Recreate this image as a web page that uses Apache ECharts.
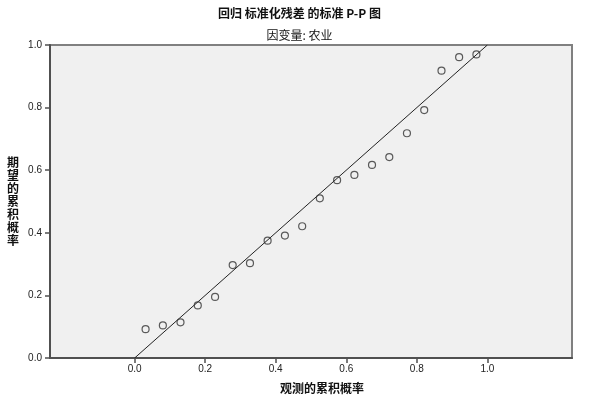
<!DOCTYPE html>
<html>
<head>
<meta charset="utf-8">
<script src="https://cdn.jsdelivr.net/npm/echarts@6/dist/echarts.min.js"></script>
<style>
html,body{margin:0;padding:0;background:#fff;}
#main{width:599px;height:409px;}
</style>
</head>
<body>
<div id="main"></div>
<script>
// 观测的累积概率 / 期望的累积概率
var observedProb = [0.031, 0.080, 0.130, 0.179, 0.228, 0.278, 0.327, 0.377, 0.426, 0.475,
                    0.525, 0.574, 0.623, 0.673, 0.722, 0.772, 0.821, 0.870, 0.920, 0.969];
var expectedProb = [0.092, 0.104, 0.114, 0.168, 0.195, 0.297, 0.303, 0.375, 0.391, 0.421,
                    0.510, 0.568, 0.585, 0.617, 0.642, 0.718, 0.792, 0.918, 0.961, 0.970];
var refLine = [[0, 0], [1, 1]];
var xTicks = [0, 0.2, 0.4, 0.6, 0.8, 1.0];

var pts = [];
for (var i = 0; i < observedProb.length; i++) {
	pts.push([observedProb[i], expectedProb[i]]);
}

var myChart = echarts.init(document.getElementById('main'));
var cjk = '"Noto Sans CJK SC", sans-serif';
var option = {
	animation: false,
	backgroundColor: '#fff',
	title: [{
		text: '回归 标准化残差 的标准 P-P 图',
		left: 'center',
		top: 2,
		textStyle: { fontFamily: cjk, fontSize: 12, fontWeight: 'bold', color: '#111' }
	}, {
		text: '因变量: 农业',
		left: 'center',
		top: 24,
		textStyle: { fontFamily: cjk, fontSize: 12, fontWeight: 'normal', color: '#111' }
	}],
	grid: {
		left: 50, top: 45, right: 27, bottom: 51,
		show: true,
		backgroundColor: '#f0f0f0',
		borderColor: '#808080',
		borderWidth: 2
	},
	xAxis: {
		type: 'value',
		min: -0.24,
		max: 1.24,
		name: '观测的累积概率',
		nameLocation: 'middle',
		nameGap: 24,
		nameTextStyle: { fontFamily: cjk, fontSize: 12, fontWeight: 'bold', color: '#111', padding: [0, 0, 0, 22] },
		axisLine: { show: true, onZero: false, lineStyle: { color: '#505050', width: 2 } },
		axisTick: { show: true, length: 5, customValues: xTicks, lineStyle: { color: '#505050', width: 1.5 } },
		axisLabel: {
			customValues: xTicks,
			fontFamily: 'Arial, "Liberation Sans", sans-serif',
			fontSize: 10, color: '#222', margin: 6,
			formatter: function (v) { return v.toFixed(1); }
		},
		splitLine: { show: false }
	},
	yAxis: {
		type: 'value',
		min: 0,
		max: 1,
		interval: 0.2,
		name: '期\n望\n的\n累\n积\n概\n率',
		nameLocation: 'middle',
		nameRotate: 0,
		nameGap: 31,
		nameTextStyle: { fontFamily: cjk, fontSize: 12, fontWeight: 'bold', color: '#111', lineHeight: 13 },
		axisLine: { show: true, onZero: false, lineStyle: { color: '#505050', width: 2 } },
		axisTick: { show: true, inside: false, length: 5, lineStyle: { color: '#505050', width: 1.5 } },
		axisLabel: {
			fontFamily: 'Arial, "Liberation Sans", sans-serif',
			fontSize: 10, color: '#222', margin: 8,
			formatter: function (v) { return v.toFixed(1); }
		},
		splitLine: { show: false }
	},
	series: [{
		type: 'line',
		data: refLine,
		symbol: 'none',
		lineStyle: { color: '#222', width: 1 },
		z: 2
	}, {
		type: 'scatter',
		data: pts,
		symbol: 'circle',
		symbolSize: 7,
		itemStyle: { color: 'rgba(0,0,0,0)', borderColor: '#333', borderWidth: 1.2 },
		z: 3
	}]
};
myChart.setOption(option);
</script>
</body>
</html>
